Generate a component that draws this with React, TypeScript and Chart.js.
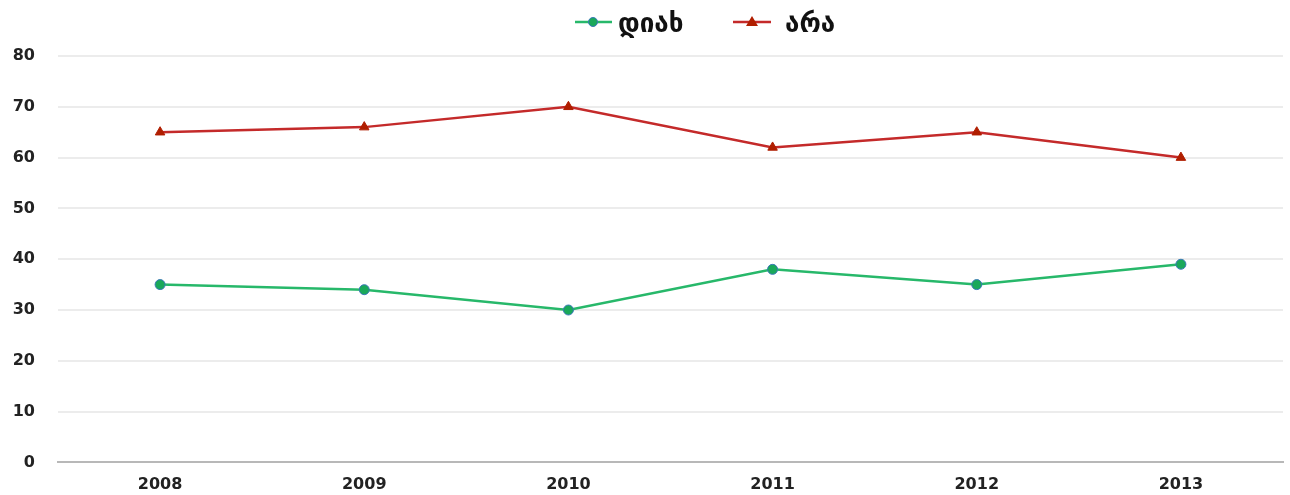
import React, { useEffect, useRef } from "react";
import { Chart, registerables } from "chart.js";

Chart.register(...registerables);

const years = ["2008", "2009", "2010", "2011", "2012", "2013"];
const yesValues = [35, 34, 30, 38, 35, 39];
const noValues = [65, 66, 70, 62, 65, 60];
const yesLabel = "დიახ";
const noLabel = "არა";

const GREEN = "#27b86a";
const RED = "#c42a2a";
const TRI = "#b01e00";
const FONT = "'DejaVu Sans', sans-serif";

const legendPlugin = {
  id: "customLegend",
  afterDraw(chart: any) {
    const ctx = chart.ctx;
    ctx.save();
    const y = 22;
    // yes
    ctx.strokeStyle = GREEN;
    ctx.lineWidth = 2.5;
    ctx.beginPath();
    ctx.moveTo(575, y);
    ctx.lineTo(612, y);
    ctx.stroke();
    ctx.fillStyle = "#1aa85a";
    ctx.strokeStyle = "#3b78b8";
    ctx.lineWidth = 1;
    ctx.beginPath();
    ctx.arc(593, y, 4.5, 0, Math.PI * 2);
    ctx.fill();
    ctx.stroke();
    ctx.fillStyle = "#111";
    ctx.font = "bold 26px " + FONT;
    ctx.textBaseline = "middle";
    ctx.textAlign = "left";
    ctx.fillText(yesLabel, 618, y + 3);
    // no
    ctx.strokeStyle = RED;
    ctx.lineWidth = 2.5;
    ctx.beginPath();
    ctx.moveTo(733, y);
    ctx.lineTo(771, y);
    ctx.stroke();
    ctx.fillStyle = TRI;
    ctx.beginPath();
    ctx.moveTo(752, y - 6);
    ctx.lineTo(758, y + 4);
    ctx.lineTo(746, y + 4);
    ctx.closePath();
    ctx.fill();
    ctx.fillStyle = "#111";
    ctx.fillText(noLabel, 785, y + 3);
    ctx.restore();
  },
};

export default function App() {
  const ref = useRef<HTMLCanvasElement | null>(null);
  useEffect(() => {
    if (!ref.current) return;
    const chart = new Chart(ref.current, {
      type: "line",
      data: {
        labels: years,
        datasets: [
          {
            label: yesLabel,
            data: yesValues,
            borderColor: GREEN,
            backgroundColor: "#1aa85a",
            pointBorderColor: "#3b78b8",
            pointBorderWidth: 1,
            pointRadius: 5,
            pointStyle: "circle",
            borderWidth: 2.5,
            tension: 0,
          },
          {
            label: noLabel,
            data: noValues,
            borderColor: RED,
            backgroundColor: TRI,
            pointBorderColor: TRI,
            pointBorderWidth: 1,
            pointRadius: 5.5,
            pointStyle: "triangle",
            borderWidth: 2.5,
            tension: 0,
          },
        ],
      },
      options: {
        responsive: false,
        animation: false,
        layout: { padding: { top: 56, right: 7, left: 0, bottom: 0 } },
        plugins: {
          legend: { display: false },
          tooltip: { enabled: false },
        },
        scales: {
          x: {
            offset: true,
            grid: { display: false, drawTicks: false },
            border: { display: true, color: "#b8b8b8", width: 2 },
            ticks: {
              color: "#222",
              font: { family: FONT, size: 16, weight: "bold" },
              padding: 13,
              maxRotation: 0,
            },
            afterFit(scale: any) {
              scale.height = 31;
            },
          },
          y: {
            min: 0,
            max: 80,
            grid: {
              color: (c: any) => (c.tick && c.tick.value === 0 ? "rgba(0,0,0,0)" : "#ececec"),
              lineWidth: 2,
              drawTicks: false,
            },
            border: { display: false },
            ticks: {
              stepSize: 10,
              color: "#222",
              font: { family: FONT, size: 16, weight: "bold" },
              padding: 23,
            },
            afterFit(scale: any) {
              scale.width = 58;
            },
          },
        },
      },
      plugins: [legendPlugin],
    });
    return () => chart.destroy();
  }, []);
  return (
    <div style={{ position: "absolute", left: 0, top: 0, width: 1290, height: 495, background: "#fff" }}>
      <canvas ref={ref} width={1290} height={495} style={{ display: "block" }} />
    </div>
  );
}
